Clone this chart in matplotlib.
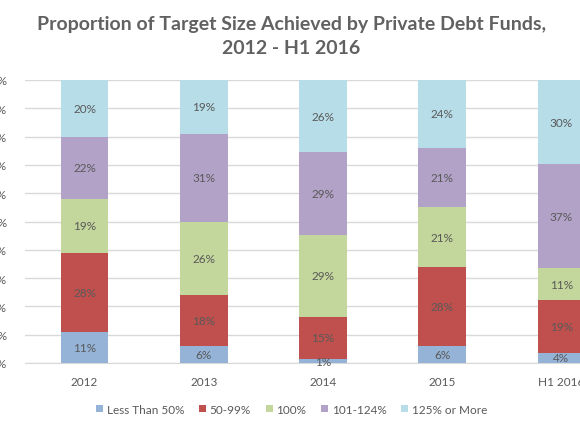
import matplotlib
matplotlib.use("Agg")
import matplotlib.pyplot as plt
import numpy as np

plt.rcParams["font.family"] = ["Lato", "DejaVu Sans"]

# data
years = ["2012", "2013", "2014", "2015", "H1 2016"]
series_names = ["Less Than 50%", "50-99%", "100%", "101-124%", "125% or More"]
less_50 = [11, 6, 1.4, 6, 3.6]
p50_99 = [28, 18, 15, 28, 18.6]
p100 = [19, 26, 29, 21, 11.2]
p101_124 = [22, 31, 29, 21, 36.8]
p125_more = [20, 19, 25.6, 24, 29.8]

colors = ["#95B3D7", "#C0504D", "#C3D69B", "#B3A2C7", "#B7DDE8"]

fig = plt.figure(figsize=(5.8, 4.35), dpi=100)
ax = fig.add_axes([25/580, 1-364/435, 596/580, 283/435])

x = np.arange(len(years))
bottom = np.zeros(len(years))
for vals, name, c in zip([less_50, p50_99, p100, p101_124, p125_more], series_names, colors):
    vals = np.array(vals)
    ax.bar(x, vals, 0.4, bottom=bottom, color=c, label=name, zorder=3)
    for xi, b, v in zip(x, bottom, vals):
        ax.text(xi, b + v/2, "%d%%" % round(v), ha="center", va="center",
                fontsize=8.5, color="#595959", zorder=4)
    bottom += vals

ax.set_xlim(-0.5, 4.5)
ax.set_ylim(0, 100)
ax.set_yticks(np.arange(0, 101, 10))
ax.set_yticklabels(["%d%%" % t for t in range(0, 101, 10)])
ax.set_xticks(x)
ax.set_xticklabels(years)
ax.tick_params(axis="y", length=0, pad=13, labelsize=8.5, labelcolor="#595959")
ax.tick_params(axis="x", length=0, pad=9, labelsize=8.5, labelcolor="#595959")
ax.grid(axis="y", color="#D9D9D9", linewidth=1, zorder=0)
for s in ["top", "right", "left"]:
    ax.spines[s].set_visible(False)
ax.spines["bottom"].set_color("#D9D9D9")

fig.text(0.502, 0.916, "Proportion of Target Size Achieved by Private Debt Funds,\n2012 - H1 2016",
         ha="center", va="center", fontsize=14, fontweight="bold", color="#616161",
         linespacing=1.45)

fig.legend(loc="center", bbox_to_anchor=(0.503, 0.057), ncol=5, frameon=False,
           fontsize=8.5, handlelength=0.6, handleheight=0.6, handletextpad=0.3,
           columnspacing=1.25, labelcolor="#595959")

fig.savefig("out.png", dpi=100)
